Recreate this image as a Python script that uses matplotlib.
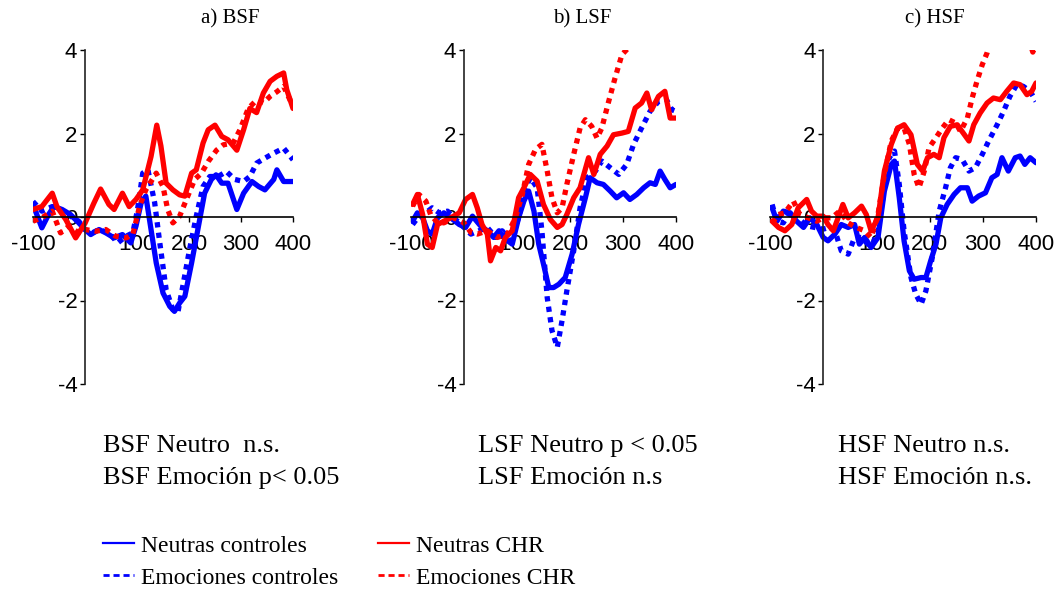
import matplotlib
matplotlib.use("Agg")
import matplotlib.pyplot as plt
from matplotlib.lines import Line2D

# ERP difference waves (µV) versus time (ms) for the three spatial-frequency conditions
bsf_neutras_controles = [(-100, 0.30), (-83, -0.26), (-70, 0.06), (-60, 0.25), (-44, 0.18), (-28, 0.06),
                         (-12, -0.14), (0, -0.30), (11, -0.42), (27, -0.30), (40, -0.38), (56, -0.50),
                         (72, -0.42), (88, -0.62), (98, -0.22), (108, 0.34), (117, 0.50), (127, -0.30),
                         (137, -1.10), (150, -1.82), (163, -2.14), (172, -2.26), (182, -2.06), (192, -1.90),
                         (205, -1.10), (217, -0.30), (230, 0.57), (243, 0.90), (252, 1.01), (263, 0.81),
                         (275, 0.81), (292, 0.18), (305, 0.57), (321, 0.85), (334, 0.73), (346, 0.65),
                         (363, 0.90), (369, 1.13), (382, 0.85), (400, 0.85)]
bsf_emociones_controles = [(-100, 0.37), (-83, 0.14), (-63, 0.25), (-47, 0.18), (-28, 0.02), (-12, -0.10),
                           (0, -0.30), (14, -0.38), (27, -0.30), (46, -0.38), (63, -0.62), (79, -0.46),
                           (92, -0.38), (101, 0.18), (111, 1.05), (121, 1.13), (134, 0.34), (143, -0.54),
                           (156, -1.74), (169, -2.22), (179, -2.26), (188, -1.66), (201, -0.78), (214, 0.02),
                           (227, 0.73), (240, 0.97), (256, 0.97), (272, 1.09), (288, 0.90), (305, 0.85),
                           (317, 0.97), (330, 1.29), (346, 1.41), (363, 1.53), (382, 1.65), (400, 1.37)]
bsf_neutras_chr = [(-100, 0.18), (-83, 0.25), (-63, 0.57), (-54, 0.25), (-37, -0.06), (-18, -0.50),
                   (0, -0.15), (17, 0.33), (30, 0.67), (46, 0.30), (56, 0.18), (72, 0.57), (85, 0.25),
                   (98, 0.42), (111, 0.65), (127, 1.45), (138, 2.20), (146, 1.70), (156, 0.81), (169, 0.65),
                   (182, 0.53), (192, 0.50), (205, 1.05), (214, 1.13), (227, 1.77), (237, 2.09), (250, 2.20),
                   (263, 1.93), (275, 1.85), (292, 1.60), (305, 2.09), (317, 2.60), (330, 2.50), (343, 2.97),
                   (356, 3.25), (369, 3.37), (382, 3.45), (388, 3.05), (400, 2.60)]
bsf_emociones_chr = [(-100, -0.10), (-83, -0.02), (-63, 0.14), (-47, -0.38), (-31, -0.22), (-12, -0.38),
                     (0, -0.30), (21, -0.34), (40, -0.30), (59, -0.46), (79, -0.50), (92, -0.42), (105, 0.26),
                     (117, 0.65), (137, 1.05), (150, 0.73), (159, 0.18), (169, -0.14), (182, 0.02), (195, 0.42),
                     (211, 0.90), (224, 1.05), (237, 1.33), (253, 1.60), (266, 1.73), (285, 1.77), (298, 2.09),
                     (314, 2.60), (330, 2.80), (343, 2.73), (356, 2.89), (369, 3.00), (382, 3.13), (400, 2.65)]

lsf_neutras_controles = [(-97, -0.10), (-88, 0.10), (-78, -0.02), (-69, -0.33), (-60, -0.41), (-50, -0.02),
                         (-38, 0.10), (-25, -0.02), (-9, -0.18), (3, -0.25), (16, 0.02), (31, -0.21),
                         (44, -0.33), (56, -0.49), (66, -0.33), (78, -0.53), (91, -0.65), (103, -0.02),
                         (113, 0.38), (122, 0.62), (132, 0.14), (141, -0.65), (150, -1.13), (160, -1.69),
                         (169, -1.69), (179, -1.61), (191, -1.45), (204, -0.89), (216, -0.18), (229, 0.46),
                         (238, 0.94), (251, 0.82), (263, 0.78), (276, 0.62), (288, 0.46), (301, 0.58),
                         (313, 0.42), (326, 0.54), (339, 0.70), (351, 0.82), (361, 0.78), (370, 1.10),
                         (379, 0.90), (389, 0.70), (400, 0.78)]
lsf_emociones_controles = [(-97, -0.18), (-85, 0.02), (-72, 0.10), (-60, 0.22), (-47, 0.10), (-31, 0.14),
                           (-19, -0.02), (0, -0.25), (13, -0.41), (28, -0.33), (44, -0.25), (60, -0.49),
                           (72, -0.33), (88, -0.57), (103, -0.02), (116, 0.70), (125, 0.94), (138, 0.70),
                           (147, -0.33), (157, -1.93), (166, -2.72), (176, -3.12), (185, -2.48), (194, -1.77),
                           (207, -0.81), (219, 0.22), (232, 0.94), (248, 1.10), (260, 1.34), (276, 1.18),
                           (292, 1.02), (307, 1.26), (320, 1.74), (335, 2.13), (351, 2.53), (367, 2.77),
                           (382, 2.81), (392, 2.57), (400, 2.53)]
lsf_neutras_chr = [(-97, 0.30), (-88, 0.54), (-78, 0.06), (-69, -0.65), (-60, -0.73), (-50, -0.18),
                   (-38, -0.10), (-25, -0.02), (-9, 0.10), (3, 0.42), (16, 0.54), (25, 0.22), (34, -0.18),
                   (44, -0.41), (50, -1.05), (60, -0.73), (69, -0.81), (78, -0.49), (91, -0.33), (103, 0.46),
                   (113, 0.70), (125, 1.02), (138, 0.86), (150, 0.30), (163, -0.06), (176, -0.25),
                   (185, -0.18), (194, 0.06), (207, 0.46), (219, 0.70), (235, 1.42), (245, 1.02),
                   (257, 1.50), (270, 1.70), (282, 1.97), (298, 2.01), (310, 2.05), (323, 2.61),
                   (335, 2.73), (345, 2.97), (354, 2.57), (367, 2.89), (379, 3.01), (389, 2.37), (400, 2.37)]
lsf_emociones_chr = [(-97, 0.26), (-85, 0.54), (-72, 0.38), (-63, 0.06), (-50, -0.14), (-38, -0.14),
                     (-19, -0.02), (0, -0.14), (13, -0.37), (25, -0.41), (44, -0.33), (63, -0.49),
                     (82, -0.41), (97, -0.02), (110, 0.54), (122, 1.26), (135, 1.62), (147, 1.74),
                     (157, 1.10), (166, 0.46), (176, 0.10), (185, 0.22), (194, 0.78), (207, 1.50),
                     (219, 2.13), (229, 2.33), (241, 2.17), (251, 1.89), (260, 2.13), (273, 2.77),
                     (285, 3.33), (298, 3.89), (310, 4.05), (322, 4.50)]

hsf_neutras_controles = [(-96, 0.22), (-87, -0.10), (-75, 0.14), (-62, 0.10), (-50, -0.10), (-37, -0.25),
                         (-25, -0.02), (-12, -0.18), (0, -0.49), (9, -0.57), (22, -0.41), (34, -0.18),
                         (47, -0.25), (59, -0.18), (68, -0.65), (78, -0.49), (90, -0.73), (103, -0.49),
                         (115, 0.62), (128, 1.26), (134, 1.34), (143, 0.46), (152, -0.57), (162, -1.29),
                         (171, -1.49), (184, -1.45), (193, -1.45), (202, -1.05), (212, -0.65), (221, -0.02),
                         (233, 0.30), (246, 0.54), (258, 0.70), (271, 0.70), (280, 0.38), (292, 0.50),
                         (305, 0.58), (317, 0.94), (327, 1.02), (336, 1.42), (348, 1.10), (361, 1.42),
                         (370, 1.46), (379, 1.26), (389, 1.42), (400, 1.30)]
hsf_emociones_controles = [(-96, 0.30), (-87, -0.10), (-75, -0.14), (-62, 0.14), (-47, -0.02), (-31, -0.21),
                           (-16, -0.25), (0, -0.29), (12, -0.25), (22, -0.33), (34, -0.81), (47, -0.89),
                           (59, -0.49), (72, -0.49), (84, -0.65), (93, -0.65), (103, -0.33), (115, 0.70),
                           (124, 1.42), (134, 1.58), (143, 0.78), (152, -0.33), (165, -1.45), (174, -1.85),
                           (184, -2.09), (193, -1.77), (205, -0.97), (218, 0.14), (230, 0.70), (239, 1.18),
                           (249, 1.42), (261, 1.38), (274, 1.10), (286, 1.18), (299, 1.50), (311, 1.82),
                           (327, 2.21), (339, 2.53), (351, 2.89), (364, 3.17), (376, 3.13), (389, 3.01),
                           (400, 2.77)]
hsf_neutras_chr = [(-96, -0.10), (-84, -0.25), (-72, -0.33), (-59, -0.18), (-47, 0.22), (-31, 0.42),
                   (-22, 0.14), (-12, 0.02), (0, 0.02), (9, -0.18), (19, -0.33), (28, -0.02), (37, 0.30),
                   (47, -0.02), (59, 0.10), (72, 0.26), (81, 0.06), (90, -0.33), (103, -0.02), (115, 1.10),
                   (128, 1.74), (140, 2.13), (152, 2.21), (165, 1.97), (177, 1.26), (187, 1.10), (196, 1.42),
                   (208, 1.50), (218, 1.42), (227, 1.90), (239, 2.17), (252, 2.21), (261, 2.05), (274, 1.82),
                   (283, 2.21), (295, 2.49), (308, 2.73), (320, 2.85), (333, 2.81), (345, 3.01), (358, 3.21),
                   (370, 3.17), (383, 2.93), (392, 3.01), (400, 3.21)]
hsf_emociones_chr = [(-96, -0.14), (-84, 0.06), (-72, 0.10), (-56, 0.38), (-44, 0.06), (-28, -0.02),
                     (-12, -0.10), (0, -0.02), (16, -0.02), (31, 0.14), (47, -0.14), (62, -0.25),
                     (78, -0.33), (90, -0.49), (103, 0.06), (115, 1.02), (128, 1.82), (140, 2.13),
                     (152, 2.13), (162, 1.74), (171, 1.02), (180, 0.70), (190, 1.10), (199, 1.66),
                     (212, 1.90), (224, 2.13), (236, 2.33), (249, 2.25), (258, 2.05), (271, 2.37),
                     (280, 2.85), (289, 3.25), (299, 3.65), (308, 3.93), (318, 4.40), (340, 4.70),
                     (365, 4.60), (388, 4.20), (394, 3.95), (400, 4.15)]

panel_titles = ["a) BSF", "b) LSF", "c) HSF"]
panel_notes = [["BSF Neutro  n.s.", "BSF Emoción p< 0.05"],
               ["LSF Neutro p < 0.05", "LSF Emoción n.s"],
               ["HSF Neutro n.s.", "HSF Emoción n.s."]]
series_labels = ["Neutras controles", "Emociones controles", "Neutras CHR", "Emociones CHR"]
x_ticks = [-100, 100, 200, 300, 400]
y_ticks = [-4, -2, 0, 2, 4]

panels = [
    [bsf_neutras_controles, bsf_emociones_controles, bsf_neutras_chr, bsf_emociones_chr],
    [lsf_neutras_controles, lsf_emociones_controles, lsf_neutras_chr, lsf_emociones_chr],
    [hsf_neutras_controles, hsf_emociones_controles, hsf_neutras_chr, hsf_emociones_chr],
]

BLUE = "#0000ff"
RED = "#ff0000"
DOT = (0, (1.0, 1.0))
styles = [(BLUE, "-"), (BLUE, DOT), (RED, "-"), (RED, DOT)]
draw_order = [1, 0, 3, 2]

SANS = ["Liberation Sans", "DejaVu Sans"]
SERIF = ["Liberation Serif", "DejaVu Serif"]

fig = plt.figure(figsize=(10.58, 5.89), dpi=100)

W, H = 1058, 589
axes_px = [(33, 293), (411, 676), (770, 1036)]
top_px, bottom_px = 50, 384
title_x = [230, 582, 935]
note_x = [103, 478, 838]

for i, (x0, x1) in enumerate(axes_px):
    ax = fig.add_axes([x0 / W, 1 - bottom_px / H, (x1 - x0) / W, (bottom_px - top_px) / H])
    for k in draw_order:
        data = panels[i][k]
        t = [p[0] for p in data]
        v = [p[1] for p in data]
        color, ls = styles[k]
        ax.plot(t, v, color=color, linestyle=ls, linewidth=3.8,
                solid_joinstyle="round", solid_capstyle="round")
    ax.set_xlim(-100, 400)
    ax.set_ylim(-4, 4)
    for s in ("top", "right"):
        ax.spines[s].set_visible(False)
    ax.spines["left"].set_position(("data", 0))
    ax.spines["bottom"].set_position(("data", 0))
    ax.spines["left"].set_color("#222222")
    ax.spines["left"].set_linewidth(1.2)
    ax.spines["bottom"].set_color("black")
    ax.spines["bottom"].set_linewidth(1.2)
    ax.spines["left"].set_zorder(5)
    ax.spines["bottom"].set_zorder(5)
    ax.set_xticks(x_ticks)
    ax.set_xticklabels([str(t) for t in x_ticks])
    ax.set_yticks(y_ticks)
    ax.set_yticklabels([str(t) for t in y_ticks])
    ax.tick_params(axis="x", direction="out", length=3.5, width=1.0, pad=8.5, labelsize=16)
    ax.tick_params(axis="y", direction="out", length=3.5, width=1.0, pad=2, labelsize=16)
    for lab in ax.get_xticklabels() + ax.get_yticklabels():
        lab.set_family(SANS)
        lab.set_zorder(6)
    ax.patch.set_visible(False)

    fig.text(title_x[i] / W, 1 - 19 / H, panel_titles[i], ha="center", va="center",
             fontsize=15, family=SERIF)
    fig.text(note_x[i] / W, 1 - 452 / H, panel_notes[i][0], ha="left", va="baseline",
             fontsize=19, family=SERIF)
    fig.text(note_x[i] / W, 1 - 484 / H, panel_notes[i][1], ha="left", va="baseline",
             fontsize=19, family=SERIF)

# Legend: controls on the left, CHR group on the right
legend_handles = [
    Line2D([], [], color=BLUE, linestyle="-", linewidth=1.6),
    Line2D([], [], color=BLUE, linestyle=(0, (2.2, 1.4)), linewidth=2.0),
    Line2D([], [], color=RED, linestyle="-", linewidth=1.6),
    Line2D([], [], color=RED, linestyle=(0, (2.2, 1.4)), linewidth=2.0),
]
for group, x_left in ((0, 103), (2, 378)):
    fig.legend(legend_handles[group:group + 2], series_labels[group:group + 2],
               loc="upper left", bbox_to_anchor=(x_left / W, 1 - 535 / H),
               frameon=False, prop={"family": SERIF, "size": 17},
               handlelength=1.3, handletextpad=0.3, labelspacing=0.45,
               borderaxespad=0, borderpad=0)

fig.savefig("out.png", dpi=100)
